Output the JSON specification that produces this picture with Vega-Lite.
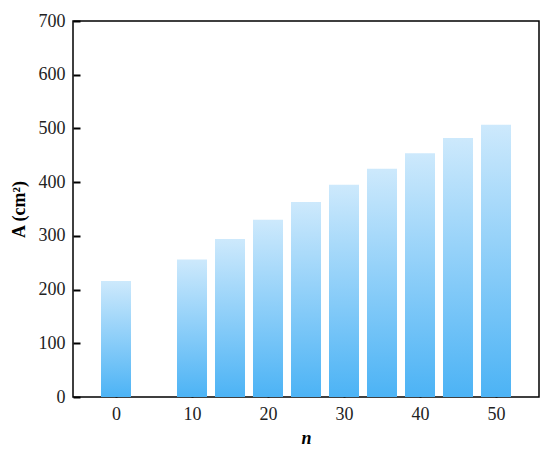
{
  "$schema": "https://vega.github.io/schema/vega-lite/v6.json",
  "width": 466,
  "height": 376,
  "autosize": "none",
  "padding": {"left": 73, "top": 21, "right": 11, "bottom": 57},
  "background": "white",
  "config": {
    "view": {"stroke": "black", "strokeWidth": 1.5},
    "axis": {
      "grid": false,
      "domain": false,
      "ticks": true,
      "tickColor": "#000000",
      "tickWidth": 2,
      "tickSize": 7,
      "zindex": 1,
      "labelFont": "Liberation Serif",
      "labelFontSize": 18,
      "labelColor": "#222",
      "titleFont": "Liberation Serif",
      "titleFontSize": 18,
      "titleFontWeight": "bold",
      "titleColor": "black"
    }
  },
  "data": {
    "values": [
      {"n": 0, "A": 216},
      {"n": 10, "A": 256},
      {"n": 15, "A": 294},
      {"n": 20, "A": 330},
      {"n": 25, "A": 363},
      {"n": 30, "A": 395},
      {"n": 35, "A": 425},
      {"n": 40, "A": 454},
      {"n": 45, "A": 482},
      {"n": 50, "A": 507}
    ]
  },
  "mark": {
    "type": "bar",
    "width": 30,
    "color": {
      "gradient": "linear",
      "x1": 0, "y1": 0, "x2": 0, "y2": 1,
      "stops": [
        {"offset": 0, "color": "#cde9fc"},
        {"offset": 1, "color": "#4cb3f5"}
      ]
    }
  },
  "encoding": {
    "x": {
      "field": "n",
      "type": "quantitative",
      "scale": {"domain": [-5, 55], "nice": false, "zero": false},
      "axis": {
        "values": [0, 10, 20, 30, 40, 50],
        "offset": -7,
        "labelPadding": 8,
        "title": "n",
        "titleFontStyle": "italic",
        "titlePadding": 6
      }
    },
    "y": {
      "field": "A",
      "type": "quantitative",
      "scale": {"domain": [0, 700], "nice": false},
      "axis": {
        "values": [0, 100, 200, 300, 400, 500, 600, 700],
        "offset": -7,
        "labelPadding": 8,
        "title": "A (cm²)",
        "titlePadding": 10
      }
    }
  }
}
